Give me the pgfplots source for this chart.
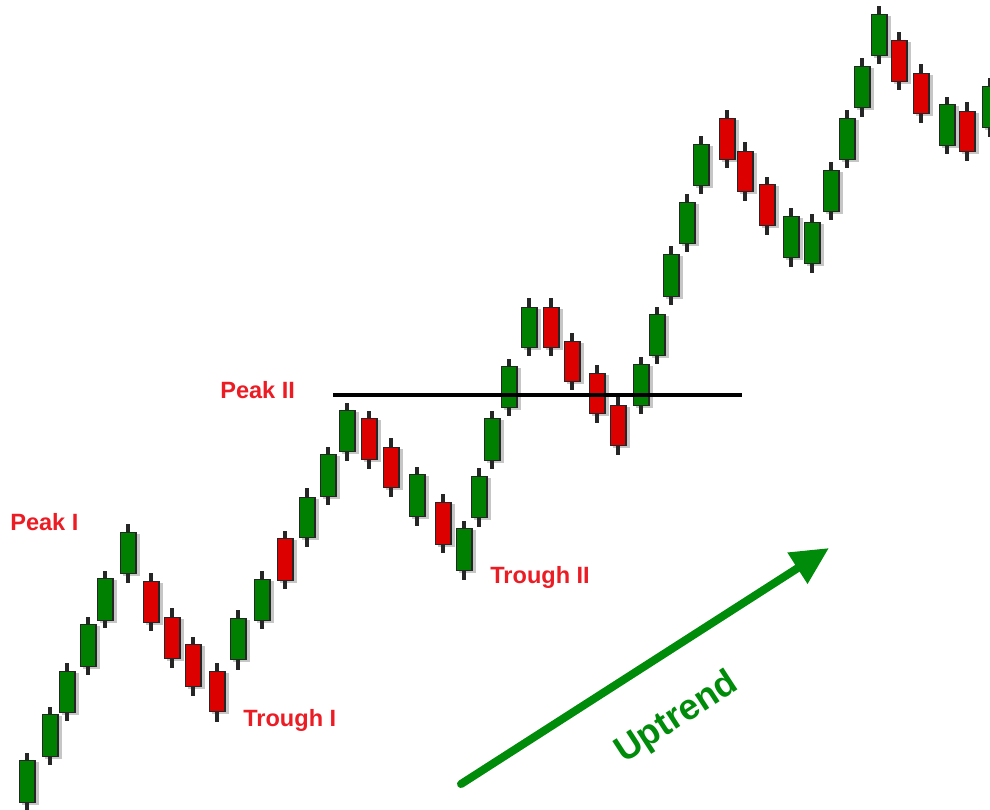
\documentclass[border=0pt]{standalone}
\usepackage{fontspec}
\setmainfont{Liberation Sans}
\usepackage{pgfplots}
\usepackage{pgfplotstable}
\pgfplotsset{compat=1.18}
\usetikzlibrary{arrows.meta}

\definecolor{upgreen}{RGB}{0,128,0}
\definecolor{downred}{RGB}{220,0,0}
\definecolor{labelred}{RGB}{236,28,36}
\definecolor{trendgreen}{RGB}{0,140,10}

% candles in picture pixels: x, body top, body bottom, wick high, wick low
\pgfplotstableread{
x   top bot hi  lo
27  760 803 753 812
50  714 757 707 765
67  671 713 663 721
88  624 667 617 675
105 578 621 571 628
128 532 574 524 583
238 618 660 610 670
262 579 621 571 629
307 497 538 488 547
328 454 497 447 505
347 410 452 403 461
417 474 517 467 526
464 528 571 521 580
479 476 518 468 527
492 418 461 411 469
509 366 408 359 416
529 307 348 298 356
641 364 406 357 414
657 314 356 307 364
671 254 297 246 305
687 202 244 194 252
701 144 186 136 194
791 216 258 208 267
812 222 264 214 273
831 170 212 162 220
847 118 160 110 168
862 66  108 58  117
879 14  56  6   64
947 104 146 97  154
990 86  128 78  137
}\greencandles

\pgfplotstableread{
x   top bot hi  lo
151 581 623 573 631
172 617 659 608 668
193 644 687 637 696
217 671 712 663 722
285 538 581 531 589
369 418 460 411 469
391 447 488 438 497
443 502 545 494 553
551 307 348 298 356
572 341 382 333 390
597 373 414 365 423
618 405 446 397 455
727 118 160 110 168
745 151 192 142 201
767 184 226 177 235
899 40  82  32  90
921 73  114 64  123
967 111 152 102 161
}\redcandles

\pgfplotsset{
  candle/.style 2 args={draw=none, mark=none, forget plot,
    error bars/.cd, y dir=both, y explicit, error mark=none,
    error bar style={line cap=butt, line width=#1, draw=#2}},
  table/shadow/.style={x expr=\thisrow{x}+3,
    y expr={(\thisrow{top}+\thisrow{bot})/2+2},
    y error expr={(\thisrow{bot}-\thisrow{top})/2}},
  table/wick/.style={x=x,
    y expr={(\thisrow{hi}+\thisrow{lo})/2},
    y error expr={(\thisrow{lo}-\thisrow{hi})/2}},
  table/body/.style={x=x,
    y expr={(\thisrow{top}+\thisrow{bot})/2},
    y error expr={(\thisrow{bot}-\thisrow{top})/2-#1}},
}

\begin{document}
\begin{tikzpicture}
\begin{axis}[
    width=19.8cm, height=16.18cm, scale only axis,
    xmin=0, xmax=990, ymin=0, ymax=809,
    y dir=reverse,
    hide axis,
    ]
    \path (rel axis cs:0,0) rectangle (rel axis cs:1,1);

    % shadows
    \addplot[candle={3.4mm}{gray!45}] table[shadow] {\greencandles};
    \addplot[candle={3.4mm}{gray!45}] table[shadow] {\redcandles};
    % wicks
    \addplot[candle={0.8mm}{black!85}] table[wick] {\greencandles};
    \addplot[candle={0.8mm}{black!85}] table[wick] {\redcandles};
    % body outlines
    \addplot[candle={3.4mm}{black!85}] table[body=0] {\greencandles};
    \addplot[candle={3.4mm}{black!85}] table[body=0] {\redcandles};
    % bodies
    \addplot[candle={2.8mm}{upgreen}] table[body=1.4] {\greencandles};
    \addplot[candle={2.8mm}{downred}] table[body=1.4] {\redcandles};

    % resistance line
    \addplot[black, line width=0.75mm, forget plot] coordinates {(333,395) (742,395)};

    % trend arrow
    \draw[line width=1.6mm, trendgreen, line cap=round,
        -{Triangle[length=7.5mm,width=7mm]}]
        (axis cs:461,784) -- (axis cs:829,548);
    \node[rotate=33, text=trendgreen, font=\bfseries\fontsize{20.5}{24}\selectfont]
        at (axis cs:677,718) {Uptrend};

    \begin{scope}[every node/.style={text=labelred, font=\bfseries\fontsize{13.4}{16}\selectfont, inner sep=0pt}]
    \node[anchor=base west] at (axis cs:10,530) {Peak I};
    \node[anchor=base west] at (axis cs:220,398) {Peak II};
    \node[anchor=base west] at (axis cs:243,726) {Trough I};
    \node[anchor=base west] at (axis cs:490,583) {Trough II};
    \end{scope}
\end{axis}
\end{tikzpicture}
\end{document}
